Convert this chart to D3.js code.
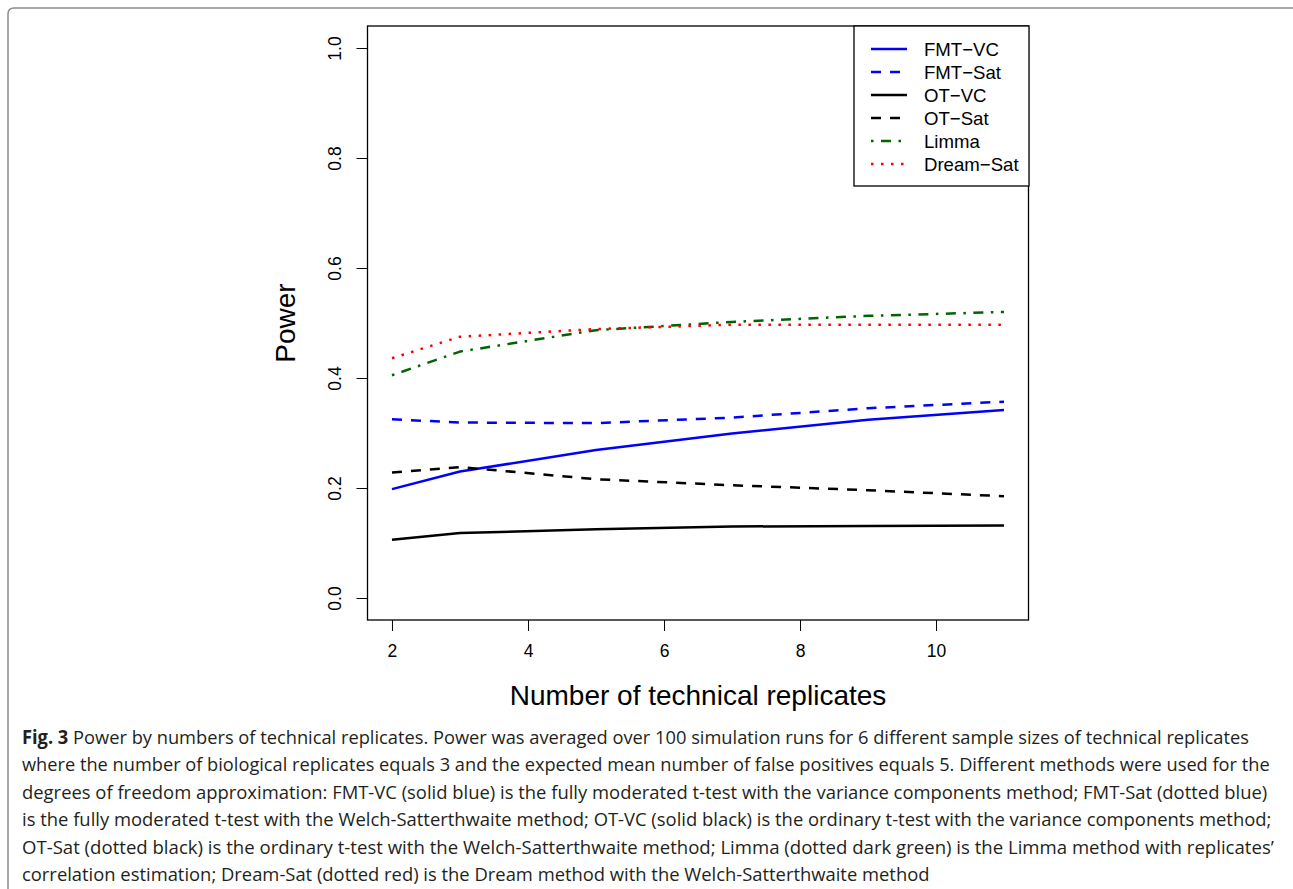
<!DOCTYPE html>
<meta charset="utf-8">
<style>
body {
  margin: 0;
  background: #fff;
}
svg {
  display: block;
  font-family: "Liberation Sans", Arial, Helvetica, sans-serif;
}
.caption {
  font-family: "Open Sans", "Noto Sans", sans-serif;
  font-size: 19px;
  fill: #231f20;
}
</style>
<body>
<script src="https://d3js.org/d3.v7.min.js"></script>
<script>

var width = 1293,
    height = 889;

// technical replicates (x) and averaged power per method
var replicates = [2, 3, 5, 7, 9, 11];
var fmtVC    = [0.198, 0.230, 0.269, 0.299, 0.324, 0.342];
var fmtSat   = [0.325, 0.319, 0.318, 0.328, 0.345, 0.357];
var otVC     = [0.106, 0.118, 0.125, 0.130, 0.131, 0.132];
var otSat    = [0.228, 0.238, 0.216, 0.205, 0.196, 0.185];
var limma    = [0.405, 0.448, 0.487, 0.502, 0.513, 0.520];
var dreamSat = [0.436, 0.475, 0.489, 0.497, 0.497, 0.497];

var xTicks = [2, 4, 6, 8, 10];
var yTicks = [0, 0.2, 0.4, 0.6, 0.8, 1.0];

var seriesNames = ["FMT\u2212VC", "FMT\u2212Sat", "OT\u2212VC", "OT\u2212Sat", "Limma", "Dream\u2212Sat"];
var seriesValues = [fmtVC, fmtSat, otVC, otSat, limma, dreamSat];
var seriesColors = ["#0000ff", "#0000ff", "#000000", "#000000", "#006400", "#ff0000"];
var seriesDash = [null, "10,9", null, "10,9", "2.5,7.5,10,7.5", "2.5,7.5"];

var captionLines = [
  "Power by numbers of technical replicates. Power was averaged over 100 simulation runs for 6 different sample sizes of technical replicates",
  "where the number of biological replicates equals 3 and the expected mean number of false positives equals 5. Different methods were used for the",
  "degrees of freedom approximation: FMT-VC (solid blue) is the fully moderated t-test with the variance components method; FMT-Sat (dotted blue)",
  "is the fully moderated t-test with the Welch-Satterthwaite method; OT-VC (solid black) is the ordinary t-test with the variance components method;",
  "OT-Sat (dotted black) is the ordinary t-test with the Welch-Satterthwaite method; Limma (dotted dark green) is the Limma method with replicates\u2019",
  "correlation estimation; Dream-Sat (dotted red) is the Dream method with the Welch-Satterthwaite method"
];
var captionWidths = [1228, 1248, 1246, 1250, 1253, 908];

var svg = d3.select("body").append("svg")
    .attr("width", width)
    .attr("height", height);

// page frame (rounded top-left corner)
svg.append("path")
    .attr("d", "M8," + height + "V14Q8,8 14,8H" + width)
    .attr("fill", "none")
    .attr("stroke", "#8a8a8a")
    .attr("stroke-width", 1.5);

// R pads the data range by 4% on each side
var x = d3.scaleLinear()
    .domain([1.64, 11.36])
    .range([367.5, 1028.5]);

var y = d3.scaleLinear()
    .domain([-0.04, 1.04])
    .range([620, 26]);

var plot = svg.append("g");

// x axis
var xAxis = plot.append("g")
    .attr("transform", "translate(0,620)")
    .call(d3.axisBottom(x).tickValues(xTicks).tickSize(11).tickPadding(14).tickFormat(d3.format("d")));
xAxis.select(".domain").remove();
xAxis.selectAll("text").attr("font-size", 17.5).attr("font-family", null).attr("fill", "#000");
xAxis.selectAll("line").attr("stroke", "#000");

// y axis, labels rotated as in R (las = 0)
var yAxis = plot.append("g")
    .attr("transform", "translate(367.5,0)")
    .call(d3.axisLeft(y).tickValues(yTicks).tickSize(11).tickFormat(d3.format(".1f")));
yAxis.select(".domain").remove();
yAxis.selectAll("line").attr("stroke", "#000");
yAxis.selectAll("text")
    .attr("font-size", 17.5)
    .attr("font-family", null)
    .attr("fill", "#000")
    .attr("x", null)
    .attr("dy", null)
    .attr("text-anchor", "middle")
    .attr("dominant-baseline", "central")
    .attr("transform", "translate(-33,0)rotate(-90)");

// plot box
plot.append("rect")
    .attr("x", x.range()[0])
    .attr("y", y.range()[1])
    .attr("width", x.range()[1] - x.range()[0])
    .attr("height", y.range()[0] - y.range()[1])
    .attr("fill", "none")
    .attr("stroke", "#000")
    .attr("stroke-width", 1.3);

// series lines
var line = d3.line()
    .x(function(d, i) { return x(replicates[i]); })
    .y(function(d) { return y(d); });

plot.selectAll(".series")
    .data(seriesValues)
  .enter().append("path")
    .attr("class", "series")
    .attr("d", line)
    .attr("fill", "none")
    .attr("stroke", function(d, i) { return seriesColors[i]; })
    .attr("stroke-width", 2.5)
    .attr("stroke-dasharray", function(d, i) { return seriesDash[i]; })
    .attr("stroke-linejoin", "round");

// axis titles
svg.append("text")
    .attr("x", (x.range()[0] + x.range()[1]) / 2)
    .attr("y", 695)
    .attr("text-anchor", "middle")
    .attr("dominant-baseline", "central")
    .attr("font-size", 28)
    .text("Number of technical replicates");

svg.append("text")
    .attr("transform", "translate(285," + (y.range()[0] + y.range()[1]) / 2 + ")rotate(-90)")
    .attr("text-anchor", "middle")
    .attr("dominant-baseline", "central")
    .attr("font-size", 28)
    .text("Power");

// legend
var legend = svg.append("g").attr("transform", "translate(854,26)");
legend.append("rect")
    .attr("width", 175)
    .attr("height", 160)
    .attr("fill", "#fff")
    .attr("stroke", "#000")
    .attr("stroke-width", 1.3);

var item = legend.selectAll(".item")
    .data(seriesNames)
  .enter().append("g")
    .attr("class", "item")
    .attr("transform", function(d, i) { return "translate(0," + (23 + i * 23) + ")"; });

item.append("line")
    .attr("x1", 17)
    .attr("x2", 53)
    .attr("stroke", function(d, i) { return seriesColors[i]; })
    .attr("stroke-width", 2.5)
    .attr("stroke-dasharray", function(d, i) { return seriesDash[i]; });

item.append("text")
    .attr("x", 70)
    .attr("dominant-baseline", "central")
    .attr("font-size", 18.6)
    .text(function(d) { return d; });

// figure caption: each line squeezed horizontally to the reference's ragged width
var caption = svg.append("g").attr("class", "caption");
caption.selectAll("text")
    .data(captionLines)
  .enter().append("text")
    .attr("x", 0)
    .attr("y", 0)
    .each(function(d, i) {
      var t = d3.select(this);
      if (i === 0) {
        t.append("tspan").attr("font-weight", "bold").text("Fig. 3");
        t.append("tspan").text(" " + d);
      } else {
        t.text(d);
      }
      var natural = this.getComputedTextLength();
      var sx = Math.min(1, captionWidths[i] / natural);
      t.attr("transform", "translate(22," + (744 + i * 27.4) + ")scale(" + sx + ",1)");
    });

</script>
</body>
